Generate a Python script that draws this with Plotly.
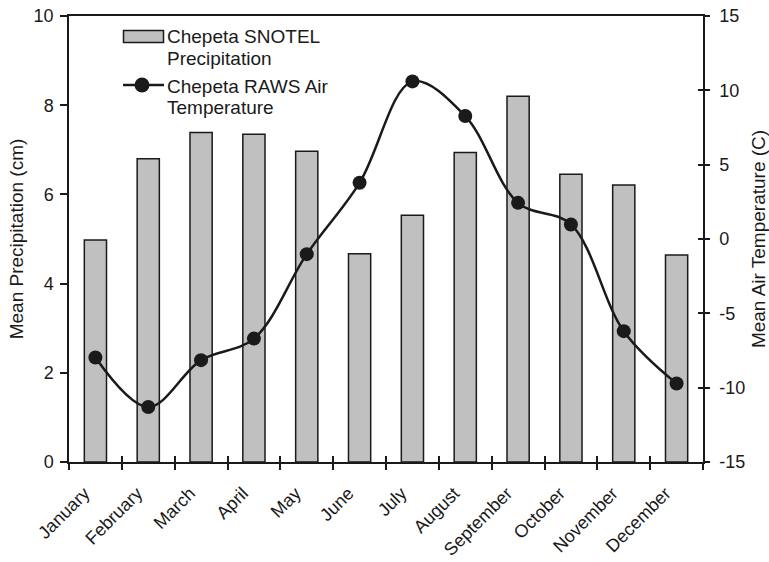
import plotly.graph_objects as go

months = ["January", "February", "March", "April", "May", "June", "July",
          "August", "September", "October", "November", "December"]
precip_cm = [4.98, 6.80, 7.39, 7.35, 6.97, 4.67, 5.53, 6.94, 8.20, 6.45, 6.21, 4.64]
air_temp_c = [-7.97, -11.3, -8.15, -6.7, -1.02, 3.78, 10.6, 8.27, 2.43, 0.98, -6.2, -9.72]

precip_ticks = [0, 2, 4, 6, 8, 10]
temp_ticks = [-15, -10, -5, 0, 5, 10, 15]

precip_name = ["Chepeta SNOTEL", "Precipitation"]
temp_name = ["Chepeta RAWS Air", "Temperature"]

FONT = "Liberation Sans, Arial, sans-serif"
INK = "#1a1a1a"
BAR_FILL = "#c0c0c0"

W, H = 769, 562
ML, MR, MT, MB = 69, 66, 16, 100
PW, PH = W - ML - MR, H - MT - MB


def px(x):
    """pixel column -> paper x"""
    return (x - ML) / PW


def py(y):
    """pixel row -> paper y"""
    return (H - MB - y) / PH


fig = go.Figure()
fig.add_trace(go.Bar(
    x=months, y=precip_cm, name="<br>".join(precip_name),
    marker=dict(color=BAR_FILL, line=dict(color=INK, width=1.5)),
    width=0.42, xaxis="x", yaxis="y", showlegend=False,
))
fig.add_trace(go.Scatter(
    x=months, y=air_temp_c, name="<br>".join(temp_name),
    mode="lines+markers",
    line=dict(color=INK, width=2.5, shape="spline", smoothing=1.0),
    marker=dict(color=INK, size=14), xaxis="x", yaxis="y2", showlegend=False,
))
# empty helper traces so the tick-only overlay axes get drawn
fig.add_trace(go.Scatter(x=[None], y=[None], xaxis="x2", yaxis="y",
                         showlegend=False, hoverinfo="skip"))
fig.add_trace(go.Scatter(x=[None], y=[None], xaxis="x", yaxis="y3",
                         showlegend=False, hoverinfo="skip"))

axis_common = dict(showline=True, linecolor=INK, linewidth=1.5, showgrid=False,
                   zeroline=False, tickcolor=INK, tickwidth=1.5, automargin=False,
                   tickfont=dict(size=18, color=INK, family=FONT))
n = len(months)
boundaries = [i - 0.5 for i in range(n + 1)]

fig.update_layout(
    width=W, height=H,
    margin=dict(l=ML, r=MR, t=MT, b=MB),
    paper_bgcolor="white", plot_bgcolor="white",
    font=dict(family=FONT, color=INK),
    xaxis=dict(**axis_common, type="category", ticks="outside", ticklen=6,
               tickson="boundaries", tickangle=-45, mirror=True,
               range=[-0.5, n - 0.5], ticklabelstandoff=12, ticklabelshift=-11),
    # inner half of the crossing tick marks along the bottom axis
    xaxis2=dict(overlaying="x", anchor="y", side="bottom", range=[-0.5, n - 0.5],
                tickmode="array", tickvals=boundaries, ticks="inside", ticklen=6,
                tickwidth=1.5, tickcolor=INK, showticklabels=False, automargin=False,
                showline=False, showgrid=False, zeroline=False),
    yaxis=dict(**axis_common, range=[0, 10], tickmode="array", tickvals=precip_ticks,
               ticktext=[str(v) for v in precip_ticks], ticks="outside", ticklen=7,
               ticklabelstandoff=3,
               title=dict(text="Mean Precipitation (cm)",
                          font=dict(size=19, family=FONT, color=INK), standoff=5)),
    yaxis2=dict(**axis_common, range=[-15, 15], tickmode="array", tickvals=temp_ticks,
                ticktext=[str(v) for v in temp_ticks], ticks="outside", ticklen=5,
                ticklabelstandoff=6, overlaying="y", side="right", anchor="x",
                title=dict(text="Mean Air Temperature (C)",
                           font=dict(size=19, family=FONT, color=INK), standoff=12)),
    # inner half of the crossing tick marks on the right axis
    yaxis3=dict(overlaying="y", side="right", anchor="x", range=[-15, 15],
                tickmode="array", tickvals=temp_ticks,
                ticks="inside", ticklen=5, tickwidth=1.5, tickcolor=INK, automargin=False,
                showticklabels=False, showline=False, showgrid=False, zeroline=False),
    showlegend=False,
)

# Legend block, top-left inside the plot
fig.add_shape(type="rect", xref="paper", yref="paper",
              x0=px(123.5), x1=px(163.5), y0=py(42.5), y1=py(30.5),
              fillcolor=BAR_FILL, line=dict(color=INK, width=1.5))
fig.add_shape(type="line", xref="paper", yref="paper",
              x0=px(123), x1=px(164), y0=py(85), y1=py(85),
              line=dict(color=INK, width=2.5))
fig.add_shape(type="circle", xref="paper", yref="paper",
              x0=px(134.5), x1=px(149.5), y0=py(92.5), y1=py(77.5),
              fillcolor=INK, line=dict(color=INK, width=0))
for text, row in [(precip_name[0], 36.5), (precip_name[1], 58.5),
                  (temp_name[0], 86), (temp_name[1], 107.5)]:
    fig.add_annotation(text=text, xref="paper", yref="paper", x=px(165), y=py(row),
                       xanchor="left", yanchor="middle", showarrow=False,
                       font=dict(size=19, family=FONT, color=INK))

fig.write_html("out.html")
